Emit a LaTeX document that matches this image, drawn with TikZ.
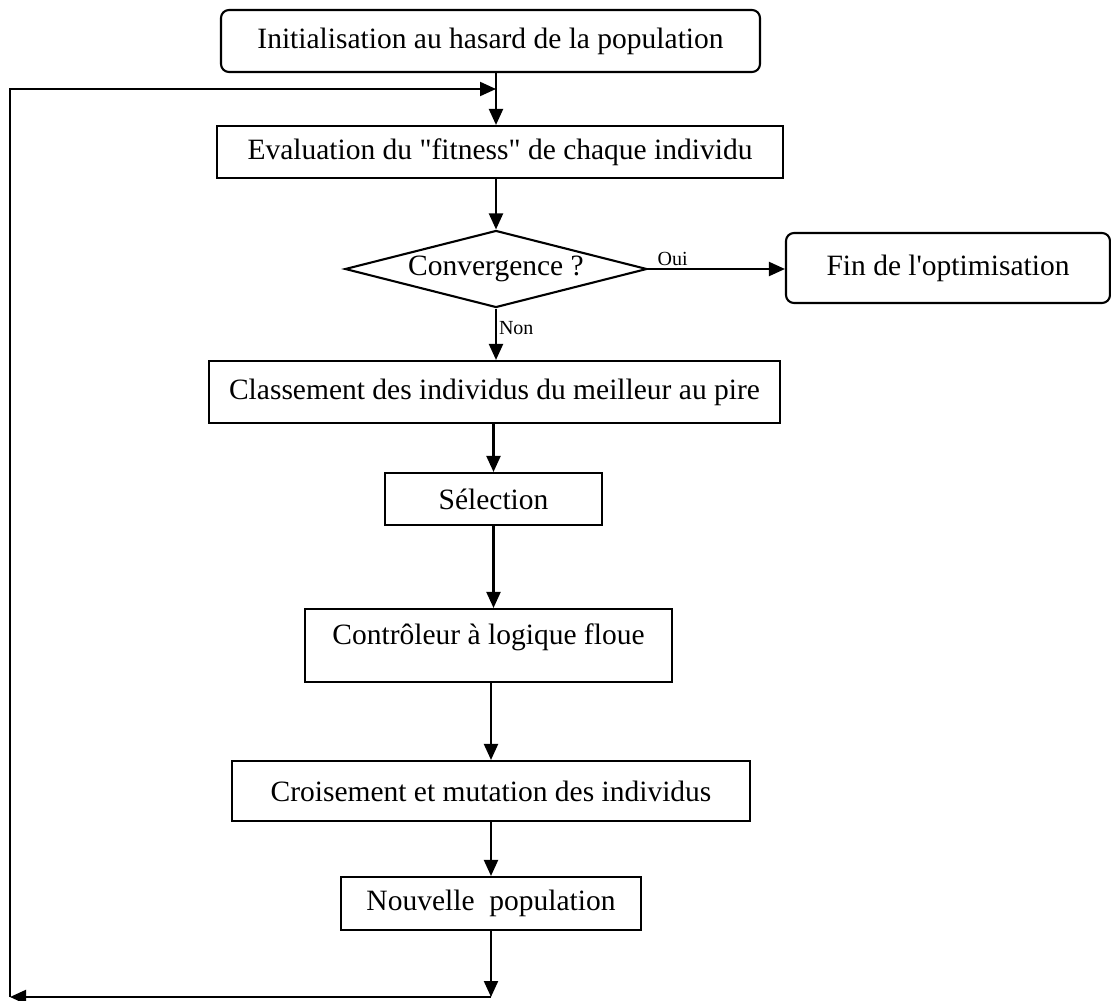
\documentclass[tikz,border=0pt]{standalone}
\usepackage{fontspec}
\setmainfont{Liberation Serif}
\usepackage{tikz}
\usetikzlibrary{arrows.meta, positioning, shapes.geometric}

\begin{document}
\begin{tikzpicture}[x=1pt, y=-1pt,
  stepbox/.style={rectangle, draw, line width=2.1pt, inner sep=0pt,
    font=\fontsize{29.5}{35}\selectfont},
  endbox/.style={stepbox, rounded corners=8pt},
  test/.style={diamond, draw, line width=2.1pt, inner sep=0pt, aspect=3.9,
    minimum width=302pt, minimum height=77pt,
    font=\fontsize{29.5}{35}\selectfont},
  arr/.style={-{Triangle[length=16pt, width=14pt]}, line width=2.1pt},
  lbl/.style={font=\fontsize{20}{24}\selectfont, inner sep=2pt}
]
  \useasboundingbox (0,0) rectangle (1111,1001);

  \node[endbox, minimum width=539pt, minimum height=62pt] (init) at (490.5,41)
    {Initialisation au hasard de la population};
  \node[stepbox, minimum width=566pt, minimum height=52pt] (eval) at (500,152)
    {Evaluation du \textquotedbl fitness\textquotedbl\ de chaque individu};
  \node[test] (conv) at (496,269) {Convergence ?};
  \node[endbox, minimum width=324pt, minimum height=70pt] (fin) at (948,268)
    {Fin de l\textquotesingle optimisation};
  \node[stepbox, minimum width=571pt, minimum height=62pt] (class) at (494.5,392)
    {Classement des individus du meilleur au pire};
  \node[stepbox, minimum width=217pt, minimum height=52pt] (sel) at (493.5,499)
    {Sélection};
  \node[stepbox, minimum width=367pt, minimum height=73pt, text depth=22pt] (ctrl) at (488.5,645.5)
    {Contrôleur à logique floue};
  \node[stepbox, minimum width=518pt, minimum height=60pt] (crois) at (491,791)
    {Croisement et mutation des individus};
  \node[stepbox, minimum width=300pt, minimum height=53pt] (nouv) at (491,903.5)
    {Nouvelle\ \ population};

  %% loop points
  \coordinate (join) at (496,89);
  \coordinate (back) at (491,997);
  \coordinate (corner) at (10,997);

  %% main flow
  \draw[arr] (init.south -| join) -- (join |- eval.north);
  \draw[arr] (eval.south -| conv.north) -- (conv.north);
  \draw[arr] (conv.east) --
    node[lbl, pos=0.18, above] {Oui}
    (conv.east -| fin.west);
  \draw[arr] (conv.south) --
    node[lbl, pos=0.37, right] {Non}
    (conv.south |- class.north);
  \draw[arr] (class.south -| sel.north) -- (sel.north);
  \draw[arr] (sel.south) -- (sel.south |- ctrl.north);
  \draw[arr] (ctrl.south -| crois.north) -- (crois.north);
  \draw[arr] (crois.south) -- (nouv.north);

  %% back to evaluation
  \draw[arr] (nouv.south) -- (back);
  \draw[arr] (back) -- (corner);
  \draw[arr] (corner) |- (join);

\end{tikzpicture}
\end{document}
